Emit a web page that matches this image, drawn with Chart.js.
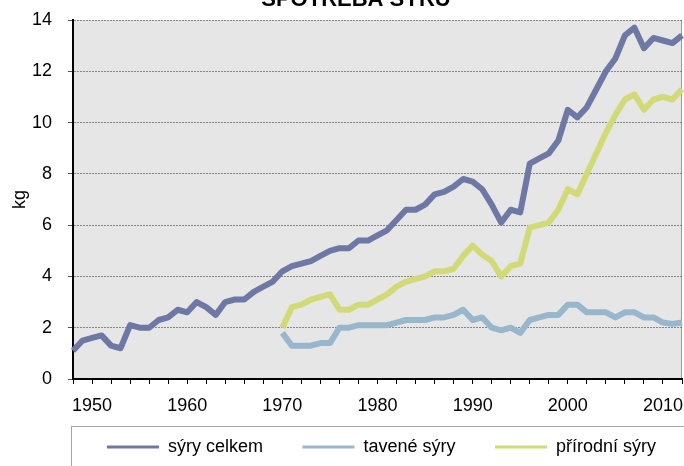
<!DOCTYPE html>
<html>
<head>
<meta charset="utf-8">
<script src="https://cdn.jsdelivr.net/npm/chart.js@4/dist/chart.umd.min.js"></script>
<style>
  html, body { margin: 0; padding: 0; background: #fff; }
  #wrap { width: 684px; height: 466px; }
</style>
</head>
<body>
<div id="wrap"><canvas id="myChart"></canvas></div>
<script>
const years = [1948, 1949, 1950, 1951, 1952, 1953, 1954, 1955, 1956, 1957,
  1958, 1959, 1960, 1961, 1962, 1963, 1964, 1965, 1966, 1967,
  1968, 1969, 1970, 1971, 1972, 1973, 1974, 1975, 1976, 1977,
  1978, 1979, 1980, 1981, 1982, 1983, 1984, 1985, 1986, 1987,
  1988, 1989, 1990, 1991, 1992, 1993, 1994, 1995, 1996, 1997,
  1998, 1999, 2000, 2001, 2002, 2003, 2004, 2005, 2006, 2007,
  2008, 2009, 2010, 2011, 2012];

// sýry celkem 1948-2012
const syryCelkem = [1.1, 1.5, 1.6, 1.7, 1.3, 1.2, 2.1, 2.0, 2.0, 2.3,
  2.4, 2.7, 2.6, 3.0, 2.8, 2.5, 3.0, 3.1, 3.1, 3.4,
  3.6, 3.8, 4.2, 4.4, 4.5, 4.6, 4.8, 5.0, 5.1, 5.1,
  5.4, 5.4, 5.6, 5.8, 6.2, 6.6, 6.6, 6.8, 7.2, 7.3,
  7.5, 7.8, 7.7, 7.4, 6.8, 6.1, 6.6, 6.5, 8.4, 8.6,
  8.8, 9.3, 10.5, 10.2, 10.6, 11.3, 12.0, 12.5, 13.4, 13.7,
  12.9, 13.3, 13.2, 13.1, 13.4];

// tavené a přírodní sýry 1970-2012
const taveneSyry = [1.8, 1.3, 1.3, 1.3, 1.4, 1.4, 2.0, 2.0, 2.1, 2.1,
  2.1, 2.1, 2.2, 2.3, 2.3, 2.3, 2.4, 2.4, 2.5, 2.7,
  2.3, 2.4, 2.0, 1.9, 2.0, 1.8, 2.3, 2.4, 2.5, 2.5,
  2.9, 2.9, 2.6, 2.6, 2.6, 2.4, 2.6, 2.6, 2.4, 2.4,
  2.2, 2.15, 2.2];
const prirodniSyry = [2.0, 2.8, 2.9, 3.1, 3.2, 3.3, 2.7, 2.7, 2.9, 2.9,
  3.1, 3.3, 3.6, 3.8, 3.9, 4.0, 4.2, 4.2, 4.3, 4.8,
  5.2, 4.85, 4.6, 4.0, 4.4, 4.5, 5.9, 6.0, 6.1, 6.6,
  7.4, 7.2, 8.0, 8.8, 9.6, 10.3, 10.9, 11.1, 10.5, 10.9,
  11.0, 10.9, 11.3];

const seriesNames = ['sýry celkem', 'tavené sýry', 'přírodní sýry'];
const seriesColors = ['#6e78a5', '#98b6cc', '#d2da78'];
const yMin = 0, yMax = 14, yStep = 2;

// doplnit prázdné roky před 1970
const offset = years.indexOf(1970);
const pad = arr => Array(offset).fill(null).concat(arr);

Chart.defaults.font.family = '"Liberation Sans", Arial, sans-serif';
Chart.defaults.font.size = 18;
Chart.defaults.color = '#000';

const LEGEND_PAD = 39.5;

const plotBg = {
  id: 'plotBg',
  afterLayout(chart) {
    // posunout titulek a legendu jako v originále
    chart.titleBlock.left = 30;
    chart.legend.left = chart.chartArea.left + 4 - 60;
    chart.legend.right = chart.chartArea.right + 4 + 60;
    chart.legend.top = 447 - 9 - LEGEND_PAD;
  },
  beforeDraw(chart) {
    const { ctx, chartArea: a } = chart;
    ctx.save();
    ctx.fillStyle = '#e6e6e6';
    ctx.fillRect(a.left, a.top, a.right - a.left, a.bottom - a.top);
    ctx.strokeStyle = '#9a9a9a';
    ctx.lineWidth = 1;
    ctx.beginPath();
    ctx.moveTo(Math.round(a.right) - 0.5, a.top);
    ctx.lineTo(Math.round(a.right) - 0.5, a.bottom);
    ctx.stroke();
    // rámeček legendy
    ctx.strokeStyle = '#a6a6a6';
    ctx.strokeRect(71.5, 426.5, 700, 100);
    ctx.restore();
  }
};

const ctx = document.getElementById('myChart');

new Chart(ctx, {
  type: 'line',
  data: {
    labels: years,
    datasets: [
      { label: seriesNames[0], data: syryCelkem },
      { label: seriesNames[1], data: pad(taveneSyry) },
      { label: seriesNames[2], data: pad(prirodniSyry) }
    ].map((d, i) => ({
      ...d,
      borderColor: seriesColors[i],
      backgroundColor: seriesColors[i],
      borderWidth: 6,
      pointRadius: 0,
      pointHoverRadius: 0,
      tension: 0,
      fill: false,
      borderJoinStyle: 'round'
    }))
  },
  options: {
    responsive: true,
    maintainAspectRatio: false,
    animation: false,
    devicePixelRatio: 1,
    layout: { padding: { left: 0, right: 2, top: 0, bottom: 0 } },
    plugins: {
      title: {
        display: true,
        text: 'SPOTŘEBA SÝRŮ',
        font: { size: 22, weight: 'bold' },
        color: '#000',
        padding: { top: -13.2, bottom: 6.8 }
      },
      legend: {
        position: 'bottom',
        maxHeight: 50,
        labels: {
          boxWidth: 52,
          boxHeight: 3,
          padding: LEGEND_PAD,
          color: '#000',
          font: { size: 18 },
          generateLabels(chart) {
            return Chart.defaults.plugins.legend.labels.generateLabels(chart)
              .map(l => ({ ...l, lineWidth: 0 }));
          }
        }
      },
      tooltip: { enabled: false }
    },
    scales: {
      x: {
        type: 'category',
        offset: false,
        afterFit(s) {
          s.height = 37;
          s.paddingLeft = 0;
          s.paddingRight = 0;
        },
        grid: {
          drawOnChartArea: false,
          drawTicks: true,
          tickLength: 5,
          color: '#000',
          tickColor: c => (years[c.index] % 2 ? 'rgba(0,0,0,0)' : '#000')
        },
        border: { color: '#000', width: 2 },
        ticks: {
          autoSkip: false,
          maxRotation: 0,
          minRotation: 0,
          padding: 11,
          color: '#000',
          callback: (v, i) => (years[i] % 10 === 0 ? String(years[i]) : '')
        }
      },
      y: {
        min: yMin,
        max: yMax,
        afterFit(s) {
          s.width = 73;
          s.paddingTop = 0;
          s.paddingBottom = 0;
        },
        ticks: { stepSize: yStep, padding: 16, color: '#000' },
        grid: {
          color: c => (c.tick && c.tick.value === 0 ? 'rgba(0,0,0,0)' : '#858585'),
          lineWidth: 1,
          tickLength: 5,
          tickColor: '#555',
          tickBorderDash: []
        },
        border: { color: '#000', width: 2, dash: [2, 1] },
        title: {
          display: true,
          text: 'kg',
          color: '#000',
          font: { size: 18 },
          padding: { top: 9, bottom: 0 }
        }
      }
    }
  },
  plugins: [plotBg]
});
</script>
</body>
</html>
